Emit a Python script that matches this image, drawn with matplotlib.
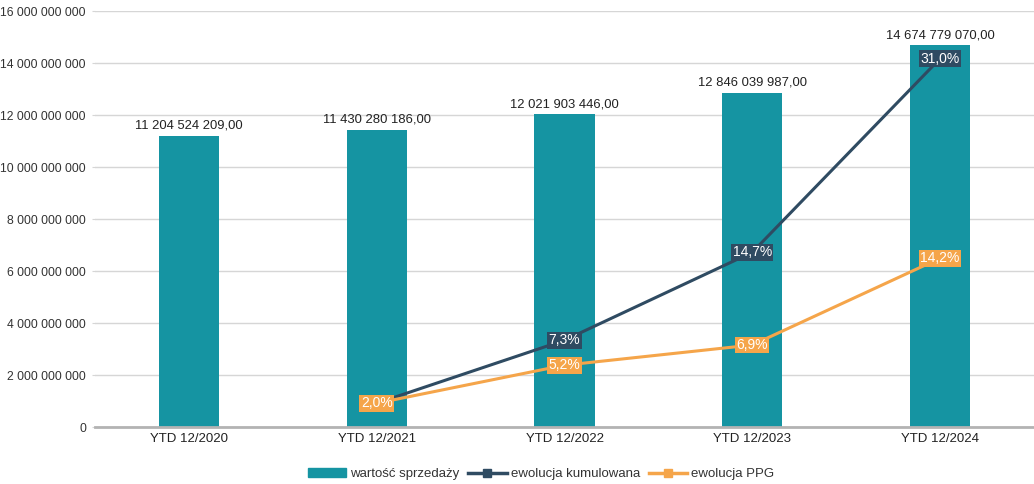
import numpy as np
import matplotlib.pyplot as plt
from matplotlib.ticker import FuncFormatter
from matplotlib.patches import Patch
from matplotlib.lines import Line2D

plt.rcParams['font.family'] = ['Liberation Sans', 'DejaVu Sans']

# data
categories = ["YTD 12/2020", "YTD 12/2021", "YTD 12/2022", "YTD 12/2023", "YTD 12/2024"]
sales = [11204524209.00, 11430280186.00, 12021903446.00, 12846039987.00, 14674779070.00]
cumulative = [np.nan, 2.0, 7.3, 14.7, 31.0]
ppg = [np.nan, 2.0, 5.2, 6.9, 14.2]

bar_color = "#1594a2"
cum_color = "#2f4b62"
ppg_color = "#f5a54a"


def fmt_space(v, decimals=0):
    s = f"{v:,.{decimals}f}"
    return s.replace(",", " ").replace(".", ",")


fig = plt.figure(figsize=(10.34, 4.84), dpi=100)
ax = fig.add_axes([95 / 1034, 1 - 427 / 484, 939 / 1034, 416 / 484])
x = np.arange(len(categories))

ax.bar(x, sales, width=0.32, color=bar_color, zorder=2)
ax.set_xlim(-0.5, 4.5)
ax.set_ylim(0, 16e9)
ax.set_yticks(np.arange(0, 16e9 + 1, 2e9))
ax.yaxis.set_major_formatter(FuncFormatter(lambda v, p: fmt_space(v)))
ax.set_xticks(x)
ax.set_xticklabels(categories)
ax.grid(axis="y", color="#d6d6d6", linewidth=1, zorder=0)
for s in ["top", "right", "left"]:
    ax.spines[s].set_visible(False)
ax.spines["bottom"].set_color("#b3b3b3")
ax.spines["bottom"].set_linewidth(2)
ax.spines["bottom"].set_zorder(3)
ax.tick_params(axis="y", length=2, color="#d6d6d6", labelsize=8.7, labelcolor="#333333", pad=4.5)
ax.tick_params(axis="x", length=0, labelsize=9.5, labelcolor="#222222", pad=4)

for xi, v in zip(x, sales):
    ax.annotate(fmt_space(v, 2), (xi, v), xytext=(0, 3), textcoords="offset points",
                ha="center", va="bottom", fontsize=9.4, color="#222222")

ax2 = ax.twinx()
ax2.set_ylim(0, 35)
ax2.axis("off")
ax2.plot(x, cumulative, color=cum_color, linewidth=2.2, zorder=4)
ax2.plot(x, ppg, color=ppg_color, linewidth=2.2, zorder=4)

for xi, v in zip(x, cumulative):
    if not np.isnan(v):
        ax2.text(xi, v, f"{v:.1f}%".replace(".", ","), ha="center", va="center",
                 fontsize=10, color="white", zorder=6,
                 bbox=dict(boxstyle="square,pad=0.1", fc=cum_color, ec="none"))
for xi, v in zip(x, ppg):
    if not np.isnan(v):
        ax2.text(xi, v, f"{v:.1f}%".replace(".", ","), ha="center", va="center",
                 fontsize=10, color="white", zorder=6,
                 bbox=dict(boxstyle="square,pad=0.1", fc=ppg_color, ec="none"))

# legend
handles = [
    Patch(color=bar_color, label="wartość sprzedaży"),
    Line2D([], [], color=cum_color, linewidth=2.5, marker="s", markersize=6, label="ewolucja kumulowana"),
    Line2D([], [], color=ppg_color, linewidth=2.5, marker="s", markersize=6, label="ewolucja PPG"),
]
fig.legend(handles=handles, loc="center", bbox_to_anchor=(541 / 1034, 1 - 474 / 484), ncol=3,
           frameon=False, fontsize=9.5, handlelength=2.9, handleheight=0.7,
           columnspacing=0.7, handletextpad=0.3, labelcolor="#333333")

fig.savefig("out.png", dpi=100)
